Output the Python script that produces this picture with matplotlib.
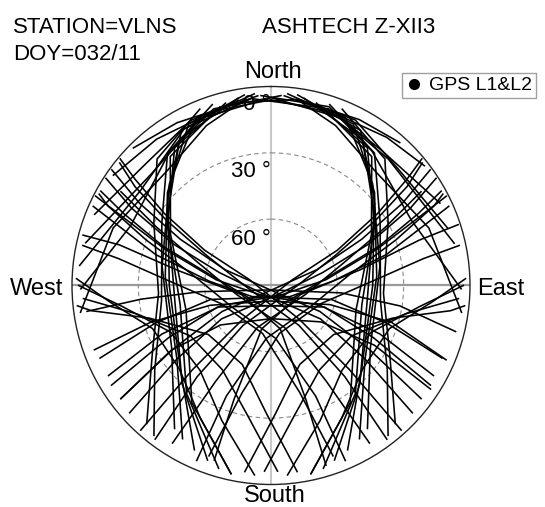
import numpy as np
import matplotlib
matplotlib.use("Agg")
import matplotlib.pyplot as plt
from matplotlib.lines import Line2D

plt.rcParams["font.family"] = ["Liberation Sans", "DejaVu Sans"]

station = "VLNS"
doy = "032/11"
receiver = "ASHTECH Z-XII3"
ring_elev = [0, 30, 60]
legend_label = "GPS L1&L2"

# satellite passes as (azimuth deg, elevation deg), read along each track
# rising in the south, climbing the west side of the northern hole
west_tracks = [
    [(200, 6), (222, 30), (262, 46), (305, 33), (328, 12), (350, 4)],
    [(205, 8), (227, 34), (270, 44), (310, 29), (330, 9), (352, 3)],
    [(210, 10), (232, 36), (275, 42), (312, 27), (333, 8), (355, 3)],
    [(196, 4), (218, 28), (258, 48), (300, 36), (325, 14), (346, 5)],
    [(214, 12), (238, 37), (280, 40), (315, 25), (336, 7), (356, 4)],
    [(192, 3), (214, 26), (254, 50), (297, 39), (322, 16), (344, 6)],
    [(218, 4), (234, 25), (262, 40), (300, 33), (322, 14), (342, 4)],
    [(222, 6), (240, 28), (266, 39), (298, 30), (318, 13), (338, 4)],
]
# same on the east side
east_tracks = [
    [(160, 6), (138, 30), (98, 46), (55, 33), (32, 12), (10, 4)],
    [(155, 8), (133, 34), (90, 44), (50, 29), (30, 9), (8, 3)],
    [(150, 10), (128, 36), (85, 42), (48, 27), (27, 8), (5, 3)],
    [(164, 4), (142, 28), (102, 48), (60, 36), (35, 14), (14, 5)],
    [(146, 12), (122, 37), (80, 40), (45, 25), (24, 7), (4, 4)],
    [(168, 3), (146, 26), (106, 50), (63, 39), (38, 16), (16, 6)],
    [(142, 4), (126, 25), (98, 40), (60, 33), (38, 14), (18, 4)],
    [(138, 6), (120, 28), (94, 39), (62, 30), (42, 13), (22, 4)],
]
# south-west to north-east, bending round the foot of the hole
ne_tracks = [
    [(233, 5), (237, 37), (242, 65), (168, 88), (71, 68), (63, 44), (58, 20), (54, 1)],
    [(241, 6), (246, 36), (248, 66), (139, 84), (84, 65), (71, 39), (65, 15), (63, 1)],
    [(222, 2), (223, 38), (220, 70), (75, 80), (62, 56), (56, 32), (52, 12), (50, 1)],
    [(228, 4), (232, 36), (236, 63), (160, 85), (76, 66), (67, 42), (61, 18), (57, 1)],
    [(238, 5), (243, 38), (248, 64), (155, 80), (80, 62), (70, 38), (64, 16), (61, 2)],
    [(217, 3), (219, 37), (215, 68), (90, 78), (65, 58), (58, 34), (54, 14), (51, 2)],
    [(247, 6), (252, 35), (257, 62), (120, 80), (86, 62), (75, 36), (68, 13), (66, 2)],
    [(212, 6), (210, 40), (198, 70), (105, 74), (73, 56), (63, 32), (58, 10)],
    [(203, 4), (202, 36), (185, 66), (120, 70), (82, 54), (70, 30), (64, 8), (62, 2)],
    [(198, 7), (198, 36), (192, 70), (107, 76), (80, 49), (73, 20), (72, 1)],
    [(200, 8), (195, 40), (170, 68), (110, 66), (88, 45), (80, 20), (78, 3)],
]
# south-east to north-west
nw_tracks = [
    [(127, 5), (123, 37), (118, 65), (192, 88), (289, 68), (297, 44), (302, 20), (306, 1)],
    [(119, 6), (114, 36), (112, 66), (221, 84), (276, 65), (289, 39), (295, 15), (297, 1)],
    [(138, 2), (137, 38), (140, 70), (285, 80), (298, 56), (304, 32), (308, 12), (310, 1)],
    [(132, 4), (128, 36), (124, 63), (200, 85), (284, 66), (293, 42), (299, 18), (303, 1)],
    [(122, 5), (117, 38), (112, 64), (205, 80), (280, 62), (290, 38), (296, 16), (299, 2)],
    [(143, 3), (141, 37), (145, 68), (270, 78), (295, 58), (302, 34), (306, 14), (309, 2)],
    [(113, 6), (108, 35), (103, 62), (240, 80), (274, 62), (285, 36), (292, 13), (294, 2)],
    [(148, 6), (150, 40), (162, 70), (255, 74), (287, 56), (297, 32), (302, 10)],
    [(157, 4), (158, 36), (175, 66), (240, 70), (278, 54), (290, 30), (296, 8), (298, 2)],
    [(163, 5), (163, 36), (168, 70), (253, 76), (279, 48), (285, 19), (285, 2)],
    [(160, 8), (165, 40), (190, 68), (250, 66), (272, 45), (280, 20), (282, 3)],
]
# arcs over the southern sky, west foot to east foot
south_tracks = [
    [(262, 6), (264, 31), (265, 58), (180, 88), (96, 58), (99, 31), (104, 4)],
    [(250, 5), (253, 33), (252, 61), (180, 83), (108, 62), (107, 33), (113, 4)],
    [(233, 5), (237, 36), (232, 61), (180, 75), (126, 62), (120, 36), (123, 4)],
]
# short passes from the south horizon setting in the west
sw_tracks = [
    [(185, 4), (200, 25), (220, 40), (245, 40), (262, 22), (270, 3)],
    [(178, 6), (190, 30), (210, 46), (238, 47), (258, 28), (266, 5)],
    [(192, 3), (208, 22), (228, 34), (250, 33), (264, 17), (272, 2)],
    [(172, 5), (182, 32), (200, 52), (232, 54), (255, 33), (262, 8), (264, 2)],
]
# and setting in the east
se_tracks = [
    [(175, 4), (160, 25), (140, 40), (115, 40), (98, 22), (90, 3)],
    [(182, 6), (170, 30), (150, 46), (122, 47), (102, 28), (94, 5)],
    [(168, 3), (152, 22), (132, 34), (110, 33), (96, 17), (88, 2)],
    [(188, 5), (178, 32), (160, 52), (128, 54), (105, 33), (98, 8), (96, 2)],
]
# low passes around the northern horizon
north_tracks = [
    [(283, 4), (313, 16), (337, 8), (0, 5), (22, 8), (43, 12), (77, 5)],
    [(276, 3), (306, 17), (331, 9), (354, 5), (18, 6), (39, 11), (64, 5)],
    [(292, 4), (314, 11), (334, 7), (350, 5)],
    [(72, 6), (48, 12), (27, 6), (9, 5)],
    [(269, 4), (293, 21), (323, 14), (342, 6), (3, 4)],
    [(91, 4), (65, 20), (37, 14), (18, 5), (357, 4)],
    [(305, 3), (322, 6), (342, 7), (0, 6), (20, 7), (38, 5), (52, 2)],
    [(315, 2), (330, 5), (350, 6), (8, 5), (28, 5), (42, 3)],
    [(262, 3), (290, 14), (318, 20), (338, 12), (352, 5)],
    [(98, 3), (70, 14), (42, 20), (22, 12), (8, 5)],
]

fig = plt.figure(figsize=(5.45, 5.07), dpi=100)
ax = fig.add_axes([0.1321, 0.0444, 0.7303, 0.785], projection="polar")
ax.set_theta_zero_location("N")
ax.set_theta_direction(-1)
ax.set_rlim(0, 90)
ax.set_xticks([])
ax.set_rticks([90 - e for e in ring_elev[1:]])
ax.set_yticklabels([])
ax.yaxis.grid(True, color="#8a8a8a", linestyle=(0, (4, 3)), linewidth=0.8)
ax.spines["polar"].set_linewidth(1.0)
ax.spines["polar"].set_color("#222222")

# north-south and east-west axes
ax.plot(np.radians([0, 180]), [90, 90], color="#c8c8c8", lw=1.5, zorder=1)
ax.plot(np.radians([90, 270]), [90, 90], color="#9a9a9a", lw=1.6, zorder=1)

families = [west_tracks, east_tracks, ne_tracks, nw_tracks, south_tracks,
            sw_tracks, se_tracks, north_tracks]
for family in families:
    for trk in family:
        az, el = zip(*trk)
        ax.plot(np.radians(az), 90 - np.array(el), color="black", lw=1.15, zorder=3)

ring_r = [79.4, 49.1, 18.3]
for e, r in zip(ring_elev, ring_r):
    ax.text(np.radians(-0.3), r, f"{e} °", ha="right", va="baseline", fontsize=16, zorder=2)

W, H = 545, 507
fig.text(13 / W, 1 - 33 / H, f"STATION={station}", fontsize=16, va="baseline")
fig.text(13 / W, 1 - 60 / H, f"DOY={doy}", fontsize=16, va="baseline")
fig.text(262 / W, 1 - 33 / H, receiver, fontsize=16, va="baseline")
fig.text(273 / W, 1 - 78 / H, "North", fontsize=17, ha="center", va="baseline")
fig.text(275 / W, 1 - 502 / H, "South", fontsize=17, ha="center", va="baseline")
fig.text(10 / W, 1 - 295 / H, "West", fontsize=17, va="baseline")
fig.text(477 / W, 1 - 295 / H, "East", fontsize=17, va="baseline")

handle = Line2D([], [], marker="o", ls="none", color="black", markersize=7)
leg = fig.legend([handle], [legend_label], loc="upper left",
                 bbox_to_anchor=(402 / W, 1 - 73 / H), frameon=True, fancybox=False,
                 fontsize=14, handlelength=0.8, handletextpad=0.4,
                 borderpad=0.2, borderaxespad=0)
leg.get_frame().set_edgecolor("#888888")
leg.get_frame().set_linewidth(1.0)

fig.savefig("out.png", dpi=100)
